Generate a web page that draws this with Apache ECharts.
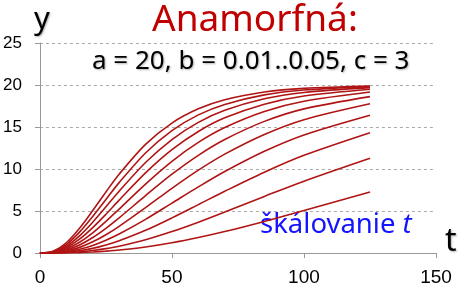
<!DOCTYPE html>
<html>
<head>
<meta charset="utf-8">
<script src="https://cdn.jsdelivr.net/npm/echarts@6/dist/echarts.min.js"></script>
<style>
  html, body {margin: 0; padding: 0; background: #fff;}
  #chart {width: 462px; height: 293px;}
</style>
</head>
<body>
<div id="chart"></div>
<script>
// cas t (vodorovna os)
const tValues = [0, 5, 10, 15, 20, 25, 30, 40, 50, 60, 70, 85, 100, 125];

// odcitane krivky, b = 0.01 .. 0.05
const yB010 = [0, 0.0, 0.02, 0.05, 0.12, 0.22, 0.35, 0.72, 1.22, 1.84, 2.55, 3.76, 5.05, 7.27];
const yB014 = [0, 0.01, 0.05, 0.14, 0.29, 0.52, 0.81, 1.58, 2.55, 3.67, 4.88, 6.74, 8.55, 11.28];
const yB018 = [0, 0.01, 0.09, 0.27, 0.55, 0.95, 1.45, 2.70, 4.18, 5.76, 7.35, 9.62, 11.63, 14.32];
const yB022 = [0, 0.02, 0.15, 0.44, 0.90, 1.52, 2.26, 4.01, 5.94, 7.87, 9.70, 12.11, 14.06, 16.41];
const yB026 = [0, 0.04, 0.24, 0.67, 1.33, 2.18, 3.18, 5.40, 7.70, 9.86, 11.77, 14.11, 15.87, 17.76];
const yB030 = [0, 0.05, 0.35, 0.95, 1.84, 2.94, 4.18, 6.83, 9.38, 11.63, 13.51, 15.67, 17.16, 18.62];
const yB034 = [0, 0.08, 0.48, 1.28, 2.40, 3.76, 5.23, 8.21, 10.92, 13.17, 14.94, 16.85, 18.06, 19.16];
const yB038 = [0, 0.10, 0.63, 1.64, 3.02, 4.61, 6.29, 9.54, 12.30, 14.47, 16.09, 17.72, 18.69, 19.49];
const yB042 = [0, 0.14, 0.81, 2.04, 3.67, 5.50, 7.35, 10.77, 13.51, 15.55, 16.99, 18.36, 19.11, 19.69];
const yB046 = [0, 0.17, 1.00, 2.48, 4.35, 6.38, 8.38, 11.91, 14.57, 16.44, 17.69, 18.82, 19.40, 19.81];
const yB050 = [0, 0.22, 1.22, 2.94, 5.05, 7.27, 9.38, 12.93, 15.47, 17.16, 18.24, 19.16, 19.60, 19.88];

const curves = [yB010, yB014, yB018, yB022, yB026, yB030, yB034, yB038, yB042, yB046, yB050];

const xTicks = [0, 50, 100, 150];
const yTicks = [0, 5, 10, 15, 20, 25];

const LINE = '#b01414';
const AXIS = '#999';

const chart = echarts.init(document.getElementById('chart'), null, {renderer: 'canvas'});

const series = curves.map((ys, i) => ({
  type: 'line',
  name: 'b' + i,
  data: tValues.map((t, k) => [t, ys[k]]),
  smooth: 0.3,
  showSymbol: false,
  silent: true,
  lineStyle: {color: LINE, width: 1.6},
}));

const shadow = {textShadowColor: 'rgba(0,0,0,0.3)', textShadowBlur: 2, textShadowOffsetX: 1, textShadowOffsetY: 1};

const option = {
  animation: false,
  backgroundColor: '#fff',
  grid: {left: 38, right: 26, top: 43, bottom: 40},
  xAxis: {
    type: 'value',
    min: xTicks[0],
    max: xTicks[xTicks.length - 1],
    interval: 50,
    axisLine: {show: true, lineStyle: {color: AXIS, width: 1}},
    axisTick: {show: true, length: 5, lineStyle: {color: AXIS}},
    axisLabel: {color: '#000', fontSize: 19, fontFamily: 'Liberation Sans, Arial', margin: 15},
    splitLine: {show: false},
  },
  yAxis: {
    type: 'value',
    min: yTicks[0],
    max: yTicks[yTicks.length - 1],
    interval: 5,
    axisLine: {show: true, lineStyle: {color: AXIS, width: 1}},
    axisTick: {show: true, length: 5, lineStyle: {color: AXIS}},
    axisLabel: {color: '#000', fontSize: 17, fontFamily: 'Liberation Sans, Arial', margin: 18},
    splitLine: {show: true, lineStyle: {color: '#aaa', type: [3, 3], width: 1}},
  },
  graphic: [
    {
      type: 'text', left: 152, top: 2,
      style: {text: 'Anamorfná:', fill: '#c00000', font: '37px "Noto Sans"'},
    },
    {
      type: 'text', left: 92, top: 49,
      style: Object.assign({text: 'a = 20, b = 0.01..0.05, c = 3', fill: '#000', font: '26px "Noto Sans"'}, shadow),
    },
    {
      type: 'text', left: 34, top: 5,
      style: Object.assign({text: 'y', fill: '#000', font: '31px "Noto Sans"'}, shadow),
    },
    {
      type: 'text', left: 445, top: 226,
      style: Object.assign({text: 't', fill: '#000', font: '32px "Noto Sans"'}, shadow),
    },
    {
      type: 'text', left: 260, top: 211,
      style: {
        text: '{a|škálovanie }{b|t}',
        rich: {
          a: {fill: '#1414ff', font: '27.5px "Noto Sans"'},
          b: {fill: '#1414ff', font: 'italic 27.5px "Noto Sans"'},
        },
      },
    },
  ],
  series: series,
};

chart.setOption(option);
</script>
</body>
</html>
